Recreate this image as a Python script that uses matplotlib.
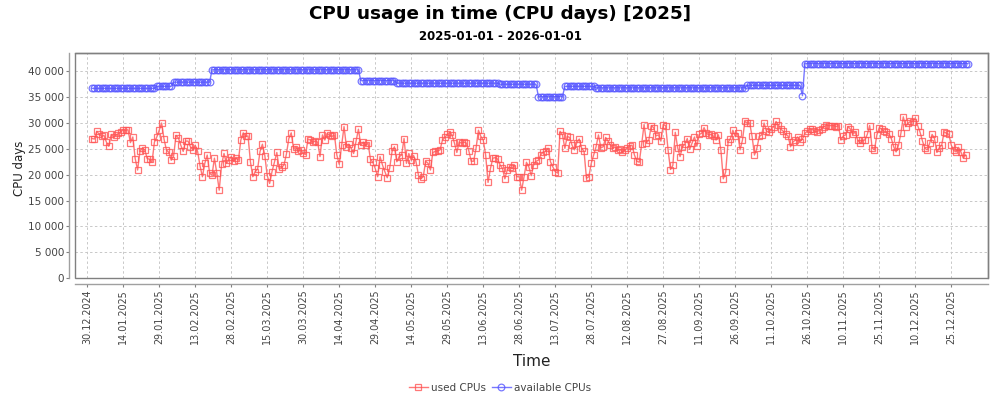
import numpy as np
import matplotlib
matplotlib.use("Agg")
import matplotlib.pyplot as plt
import matplotlib.dates as mdates
from matplotlib.patches import Rectangle
from matplotlib.ticker import FuncFormatter, MultipleLocator

# ---------------- data (CPU days per day, 2025) ----------------
used_jan = [27000, 26900, 28400, 27800, 27400, 27600, 26300, 25500, 27800, 27300,
            27600, 28000, 28300, 28700, 28600, 28700, 26200, 27300, 23100, 20900,
            24600, 25100, 24800, 23100, 23000, 22400, 26300, 27300, 28600, 30000, 26900]
used_feb = [24800, 24300, 22800, 23600, 27600, 27100, 25700, 24500, 26500, 26500,
            25400, 24800, 25700, 24500, 21700, 19600, 22200, 23800, 20300, 19900,
            23200, 20300, 17000, 22000, 24100, 22200, 22800, 23500]
used_mar = [22600, 23200, 22800, 26700, 28100, 27400, 27500, 22500, 19600, 20600,
            21100, 24500, 25900, 23700, 19800, 18300, 20600, 22400, 24300, 21100,
            21400, 21900, 24000, 27000, 28100, 25000, 25400, 24500, 24800, 24100, 23900]
used_apr = [26900, 26700, 26300, 26500, 26300, 23500, 27700, 26700, 28000, 27600,
            27400, 27700, 23800, 22000, 25700, 29300, 25400, 25900, 25100, 24100,
            26500, 28800, 25700, 26300, 25700, 26100, 23000, 22400, 21200, 19600]
used_may = [23500, 21900, 20600, 19400, 21200, 24500, 25400, 22500, 23500, 23800,
            27000, 22200, 24100, 22800, 23700, 22500, 19900, 19200, 19600, 22600,
            22200, 20900, 24300, 24500, 24600, 24800, 26700, 27200, 27800, 28200, 27700]
used_jun = [26100, 24300, 26300, 26100, 26300, 26100, 24600, 22600, 22600, 25100,
            28600, 27400, 26700, 23800, 18500, 21200, 23200, 23300, 23000, 21900,
            21200, 19200, 20900, 21500, 21200, 21900, 19600, 19600, 17000, 19600]
used_jul = [22400, 21500, 19800, 21900, 22600, 22800, 23900, 24400, 24500, 25100,
            22500, 21500, 20600, 20300, 28400, 27700, 25100, 27400, 27200, 25700,
            24800, 26200, 26900, 25100, 24500, 19300, 19600, 22200, 23800, 25400, 27700]
used_aug = [25200, 25400, 27200, 26500, 25700, 25100, 25400, 24800, 24900, 24400,
            24800, 25200, 25600, 25700, 23800, 22600, 22400, 25900, 29700, 26200,
            26700, 29500, 29100, 27500, 27700, 26500, 29700, 29500, 24800, 21000, 21800]
used_sep = [28200, 25200, 23500, 25400, 25900, 27000, 24900, 26100, 27300, 25500,
            27800, 28000, 29100, 28000, 27700, 27800, 27400, 26700, 27700, 24800,
            19200, 20500, 26300, 27000, 28600, 27400, 28000, 24800, 26700, 30300]
used_oct = [30000, 30000, 27400, 23800, 25100, 27400, 27700, 30000, 28400, 28200,
            28800, 29300, 30300, 29600, 28800, 28400, 27800, 27500, 25400, 26300,
            26700, 27300, 26400, 26900, 28000, 28400, 28900, 28800, 28400, 28300, 28600]
used_nov = [28900, 29300, 29600, 29500, 29500, 29500, 29300, 29500, 26700, 27500,
            27700, 29300, 28800, 27800, 28300, 26700, 26100, 26700, 26700, 27800,
            29500, 25200, 24800, 27700, 29100, 28800, 28400, 28200, 27900, 27000]
used_dec = [25400, 24400, 25700, 28000, 31200, 29300, 30000, 30300, 30200, 31000,
            29500, 28200, 26500, 25100, 24800, 26100, 27800, 27000, 24300, 25200,
            25700, 28300, 28000, 27800, 25700, 24700, 24400, 25300, 24400, 23200, 23800]

# available CPUs: constant levels, each starting on the given day of 2025 (0 = Jan 1)
avail_start_day = [0, 27, 34, 50, 112, 127, 170, 186, 197, 210, 273, 296, 297]
avail_level = [36700, 37100, 37900, 40300, 38200, 37700, 37500, 35100, 37100,
               36800, 37300, 35300, 41500]
avail_end_day = 366  # exclusive (through 2026-01-01)

title = "CPU usage in time (CPU days) [2025]"
subtitle = "2025-01-01 - 2026-01-01"
series_names = ["used CPUs", "available CPUs"]

# ---------------- build series ----------------
used = np.array(used_jan + used_feb + used_mar + used_apr + used_may + used_jun +
                used_jul + used_aug + used_sep + used_oct + used_nov + used_dec, dtype=float)
start = np.datetime64("2025-01-01")
used_dates = start + np.arange(len(used)).astype("timedelta64[D]")

bounds = avail_start_day + [avail_end_day]
avail = np.repeat(avail_level, np.diff(bounds)).astype(float)
avail_dates = start + np.arange(avail_end_day).astype("timedelta64[D]")

RED = "#FF5555"
BLUE = "#5555FF"
GRAY = "#808080"
TXT = "#444444"

fig = plt.figure(figsize=(10, 4), dpi=100)
ax = fig.add_axes([0.075, 0.305, 0.913, 0.5625])

ax.plot(used_dates, used, color=RED, lw=1.0, marker="s", ms=4.8, mfc="none",
        mec=RED, mew=0.9, alpha=0.8, label=series_names[0], zorder=3)
ax.plot(avail_dates, avail, color=BLUE, lw=1.0, marker="o", ms=4.8, mfc="none",
        mec=BLUE, mew=0.9, alpha=0.8, label=series_names[1], zorder=3)

# axes ranges
ax.set_xlim(start - np.timedelta64(7, "D") - np.timedelta64(2, "h"),
            start + np.timedelta64(373, "D") + np.timedelta64(7, "h"))
ax.set_ylim(0, 43550)

# ticks
tick_dates = np.datetime64("2024-12-30") + np.arange(0, 361, 15).astype("timedelta64[D]")
ax.set_xticks(tick_dates)
ax.xaxis.set_major_formatter(mdates.DateFormatter("%d.%m.%Y"))
ax.yaxis.set_major_locator(MultipleLocator(5000))
ax.yaxis.set_major_formatter(FuncFormatter(lambda v, p: f"{v:,.0f}".replace(",", " ")))

ax.tick_params(axis="both", direction="out", length=2, width=0.8, color=GRAY,
               labelcolor=TXT)
ax.tick_params(axis="x", pad=2, labelsize=6.9, labelrotation=90)
ax.tick_params(axis="y", pad=2, labelsize=7.5)

# grid
ax.grid(True, color="#C8C8C8", lw=0.7, ls=(0, (2.5, 2.5)))
ax.set_axisbelow(True)

# frame + offset axis lines
for s in ["top", "right"]:
    ax.spines[s].set_color(GRAY)
    ax.spines[s].set_linewidth(1.0)
for s in ["left", "bottom"]:
    ax.spines[s].set_position(("outward", 4))
    ax.spines[s].set_color("#A0A0A0")
    ax.spines[s].set_linewidth(1.0)
ax.add_patch(Rectangle((0, 0), 1, 1, transform=ax.transAxes, fill=False,
                       edgecolor=GRAY, lw=1.0, clip_on=False, zorder=5))

# texts
fig.text(0.5, 0.966, title, ha="center", va="center", fontsize=13.2, weight="bold")
fig.text(0.5, 0.909, subtitle, ha="center", va="center", fontsize=8.5, weight="bold")
fig.text(0.02, 0.578, "CPU days", ha="center", va="center", rotation=90,
         fontsize=8.5, color="#222222")
fig.text(0.5315, 0.097, "Time", ha="center", va="center", fontsize=11, color="#222222")

fig.legend(loc="center", bbox_to_anchor=(0.5, 0.03), ncol=2, frameon=False,
           fontsize=7.5, handlelength=1.8, handletextpad=0.3, columnspacing=0.6,
           labelcolor=TXT)

fig.savefig("out.png", dpi=100, facecolor="white")
